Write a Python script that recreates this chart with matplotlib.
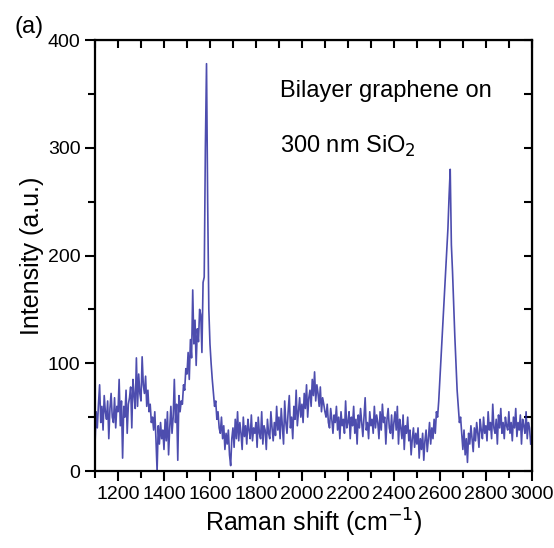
import numpy as np
import matplotlib
matplotlib.use('Agg')
import matplotlib.pyplot as plt

# Raman spectrum, one value every 5 cm-1 from 1100
shift_start = 1100
shift_step = 5
intensity = [
    # 1100-1195
    25, 55, 40, 62, 80, 45, 60, 38, 70, 55, 48, 65, 30, 58, 72, 50, 45, 68, 40, 60,
    # 1200-1295
    55, 85, 42, 65, 12, 60, 50, 75, 35, 62, 68, 78, 40, 85, 70, 58, 105, 60, 90, 72,
    # 1300-1395
    65, 106, 80, 72, 88, 60, 75, 55, 62, 45, 50, 38, 55, 30, 0, 42, 25, 45, 30, 38,
    # 1400-1495
    20, 48, 28, 55, 15, 40, 60, 35, 50, 85, 45, 62, 10, 70, 55, 65, 62, 80, 75, 95,
    # 1500-1595
    90, 110, 85, 122, 105, 168, 118, 140, 98, 132, 120, 150, 145, 110, 175, 180, 300, 378, 250, 150,
    # 1600-1695
    118, 100, 85, 72, 60, 65, 48, 55, 40, 35, 50, 30, 42, 20, 35, 25, 38, 15, 5, 30,
    # 1700-1795
    40, 22, 48, 30, 55, 28, 45, 35, 20, 50, 32, 42, 25, 48, 38, 30, 52, 28, 40, 35,
    # 1800-1895
    45, 22, 50, 35, 30, 55, 25, 42, 38, 20, 48, 35, 30, 55, 40, 28, 45, 33, 60, 38,
    # 1900-1995
    50, 30, 58, 42, 25, 65, 45, 35, 55, 70, 40, 50, 30, 60, 48, 75, 42, 55, 68, 50,
    # 2000-2095
    62, 45, 72, 58, 80, 50, 68, 75, 60, 85, 70, 92, 65, 80, 72, 60, 78, 55, 68, 62,
    # 2100-2195
    55, 50, 62, 45, 40, 58, 48, 35, 52, 45, 60, 38, 50, 30, 55, 42, 48, 35, 65, 40,
    # 2200-2295
    45, 55, 30, 50, 42, 60, 35, 48, 25, 52, 40, 58, 45, 32, 50, 68, 38, 45, 30, 55,
    # 2300-2395
    42, 48, 35, 60, 40, 52, 45, 30, 55, 38, 62, 45, 50, 25, 48, 58, 40, 35, 52, 30,
    # 2400-2495
    45, 55, 38, 60, 25, 48, 40, 30, 52, 20, 42, 35, 50, 28, 38, 15, 30, 40, 22, 35,
    # 2500-2595
    25, 40, 12, 30, 20, 35, 10, 28, 38, 18, 30, 45, 25, 40, 30, 48, 35, 55, 50, 65,
    # 2600-2695
    85, 105, 125, 145, 165, 185, 205, 225, 255, 280, 210, 185, 155, 125, 100, 75, 60, 45, 50, 35,
    # 2700-2795
    20, 38, 15, 30, 8, 35, 25, 42, 30, 18, 40, 28, 45, 35, 22, 48, 38, 30, 50, 35,
    # 2800-2895
    42, 28, 55, 38, 45, 30, 62, 40, 35, 48, 25, 52, 40, 58, 35, 45, 30, 50, 42, 38,
    # 2900-2995
    55, 35, 45, 28, 50, 40, 58, 32, 45, 38, 52, 25, 48, 42, 35, 55, 30, 45, 40, 25,
]
shift = shift_start + shift_step * np.arange(len(intensity))

x_ticks = [1200, 1400, 1600, 1800, 2000, 2200, 2400, 2600, 2800, 3000]
y_ticks = [0, 100, 200, 300, 400]

plt.rcParams['font.family'] = ['Liberation Sans Narrow', 'Liberation Sans', 'DejaVu Sans']

fig = plt.figure(figsize=(5.54, 5.48), dpi=100)
ax = fig.add_axes([0.1715, 0.1405, 0.7885, 0.7865])

ax.plot(shift, intensity, color='#20209a', lw=1.2, alpha=0.8)

ax.set_xlim(1100, 3000)
ax.set_ylim(0, 400)
ax.set_xticks(x_ticks)
ax.set_xticks(np.arange(1100, 3001, 100), minor=True)
ax.set_yticks(y_ticks)
ax.set_yticks(np.arange(0, 401, 50), minor=True)
ax.tick_params(which='both', direction='out', width=1.5, labelsize=14)
ax.tick_params(which='major', length=7)
ax.tick_params(which='minor', length=5)
for s in ax.spines.values():
    s.set_linewidth(1.6)

# mirrored ticks pointing inward on top and right
top = ax.secondary_xaxis('top')
top.set_xticks(np.arange(1100, 3001, 100))
top.tick_params(direction='in', length=6, width=1.5, labeltop=False)
right = ax.secondary_yaxis('right')
right.set_yticks(np.arange(0, 401, 50))
right.tick_params(direction='in', length=6, width=1.5, labelright=False)

ax.set_xlabel('Raman shift (cm$^{-1}$)', fontsize=18, labelpad=3)
ax.set_ylabel('Intensity (a.u.)', fontsize=18, labelpad=3)

ax.text(0.423, 0.868, 'Bilayer graphene on', transform=ax.transAxes, fontsize=17)
ax.text(0.423, 0.738, '300 nm SiO$_2$', transform=ax.transAxes, fontsize=17)
fig.text(0.027, 0.94, '(a)', fontsize=17)

fig.savefig('out.png', dpi=100)
